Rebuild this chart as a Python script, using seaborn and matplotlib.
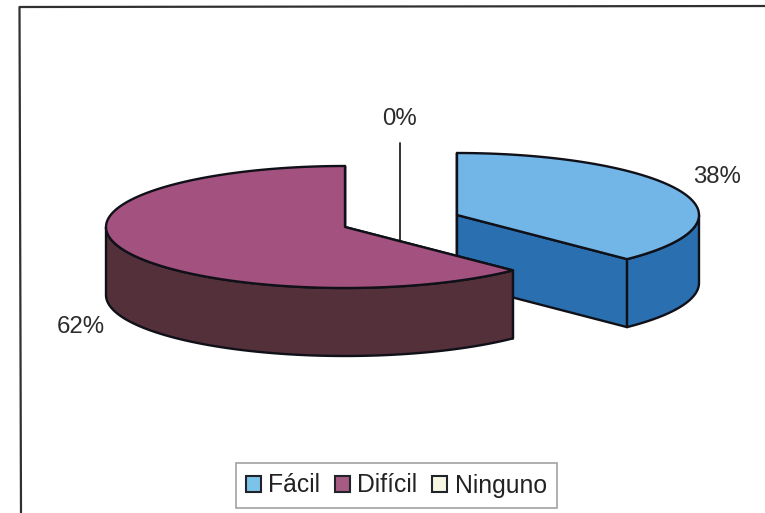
import numpy as np
import seaborn as sns
import matplotlib.pyplot as plt
from matplotlib.patches import Patch

# Data
categories = ['Fácil', 'Difícil', 'Ninguno']
shares = [37.6, 62.4, 0.0]

# Colours of the top faces, the side faces and the legend keys
top_colors = ['#72B6E8', '#A3517E']
side_colors = ['#2A6FAF', '#54303A']
legend_colors = ['#7CC3EA', '#A85B82', '#F6F6E2']

sns.set_theme(style='white')
plt.rcParams['font.family'] = ['Liberation Sans', 'DejaVu Sans']

fig, ax = plt.subplots(figsize=(7.65, 5.13), dpi=100)
ax.set_position([0, 0, 1, 1])
ax.set_xlim(0, 765)
ax.set_ylim(513, 0)
ax.axis('off')

EDGE = '#101018'
DEPTH = 68
centers = [(457, 215), (345, 227)]
radii = [(242, 62), (239, 61)]


def rim(center, radius, deg):
    # angle runs clockwise from 12 o'clock
    t = np.radians(deg)
    return center[0] + radius[0] * np.sin(t), center[1] - radius[1] * np.cos(t)


def face(xs, ys, color, z):
    ax.fill(xs, ys, facecolor=color, edgecolor=EDGE, lw=1.7, joinstyle='round', zorder=z)


# Angles of the slices come from the shares
ends = np.cumsum(shares) * 3.6
starts = np.r_[0, ends[:-1]]

for i in range(2):
    cx, cy = centers[i]
    th = np.linspace(starts[i], ends[i], 200)
    x, y = rim(centers[i], radii[i], th)
    z = 2 + i * 10

    # cut faces, back one first
    for a in (x[0], x[-1]):
        j = 0 if a == x[0] else -1
        face([cx, x[j], x[j], cx], [cy, y[j], y[j] + DEPTH, cy + DEPTH], side_colors[i], z)

    # outer wall only where the rim faces the viewer
    vis = (th >= 90) & (th <= 270)
    xv, yv = x[vis], y[vis]
    face(np.r_[xv, xv[::-1]], np.r_[yv, yv[::-1] + DEPTH], side_colors[i], z + 1)

    # top face
    face(np.r_[cx, x], np.r_[cy, y], top_colors[i], z + 2)

# Leader line of the empty slice
ax.plot([400, 400], [143, 240], color='#222222', lw=1.3, zorder=1)

# Value labels
label_pos = [(717, 177), (81, 327), (400, 119)]
for share, (lx, ly) in zip(shares, label_pos):
    ax.text(lx, ly, f'{share:.0f}%', ha='center', va='center', fontsize=17.3, color='#2B2B2B')

# Frame of the scan, only top and left show
ax.plot([21, 19.5, 765], [513, 7, 6], color='#303030', lw=1.6, zorder=1)

handles = [Patch(facecolor=c, edgecolor='#20242A', lw=1.5) for c in legend_colors]
leg = ax.legend(handles, categories, loc='center', bbox_to_anchor=(396.5, 485.5),
                bbox_transform=ax.transData, ncol=3, fontsize=17.8,
                handlelength=0.6, handleheight=0.6, handletextpad=0.3,
                columnspacing=0.6, borderpad=0.42, fancybox=False,
                frameon=True, labelcolor='#222222')
leg.get_frame().set_edgecolor('#8A8A8A')
leg.get_frame().set_linewidth(1.2)

fig.savefig('out.png', dpi=100)
